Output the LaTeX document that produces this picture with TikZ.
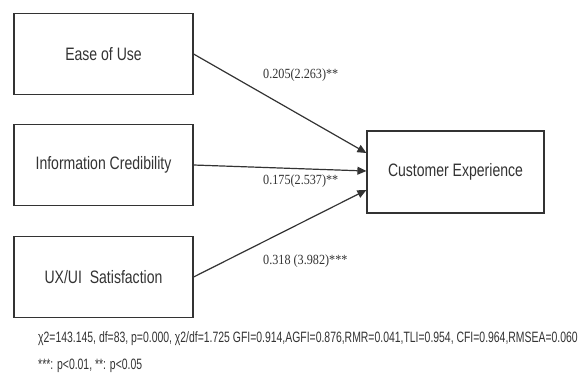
\documentclass[tikz,border=0pt]{standalone}
\usepackage{fontspec}
\usetikzlibrary{arrows.meta}
\newfontfamily\boxfont[FakeStretch=0.78]{Liberation Sans}
\newfontfamily\notefont[FakeStretch=0.695]{Liberation Sans}
\newfontfamily\labfont[FakeStretch=0.87]{Liberation Serif}
\definecolor{ink}{HTML}{333333}
\tikzset{
  var/.style={draw=ink, line width=1.2pt, minimum width=179pt, minimum height=81pt, inner sep=0pt,
    font=\boxfont\fontsize{18}{20}\selectfont, text=ink},
  path/.style={draw=ink, line width=1.2pt, -{Triangle[length=9pt,width=8pt]}},
  coef/.style={anchor=west, inner sep=0pt, font=\labfont\fontsize{14}{16}\selectfont, text=ink},
  note/.style={anchor=west, inner sep=0pt, font=\notefont\fontsize{15}{17}\selectfont, text=ink}
}
\begin{document}
\begin{tikzpicture}[x=1pt,y=-1pt]
\useasboundingbox (0,0) rectangle (585,381);
\node[var] (ease) at (103.5,54) {Ease of Use};
\node[var] (info) at (103.5,165) {Information Credibility};
\node[var] (ux) at (103.5,277) {UX/UI\ \ Satisfaction};
\node[var, minimum width=177pt, minimum height=82pt] (ce) at (455.5,172) {Customer Experience};
\draw[path] (ease.east) -- ([yshift=19pt]ce.west);
\draw[path] (info.east) -- ([yshift=1pt]ce.west);
\draw[path] (ux.east) -- ([yshift=-18pt]ce.west);
\node[coef] (c1) at (263,75) {0.205(2.263)**};
\node[coef] (c2) at (263,181) {0.175(2.537)**};
\node[coef] (c3) at (263,261) {0.318 (3.982)***};
\node[note] (fit) at (38,339) {χ2=143.145, df=83, p=0.000, χ2/df=1.725 GFI=0.914,AGFI=0.876,RMR=0.041,TLI=0.954, CFI=0.964,RMSEA=0.060};
\node[note] (sig) at (38,366) {***: p<0.01, **: p<0.05};
\end{tikzpicture}
\end{document}
